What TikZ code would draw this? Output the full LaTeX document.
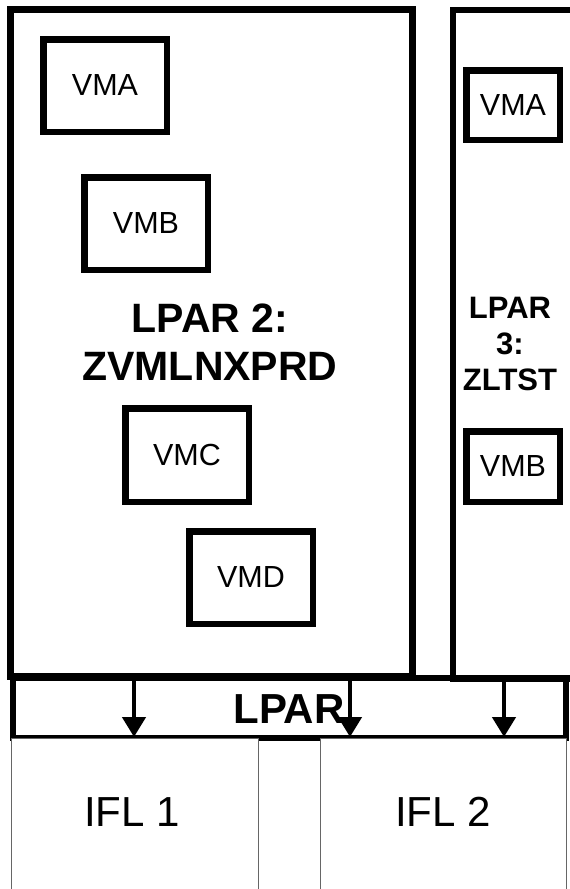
\documentclass[tikz,border=0pt]{standalone}
\usepackage{fontspec}
\setmainfont{Liberation Sans}
\usetikzlibrary{arrows.meta}
\begin{document}
\begin{tikzpicture}[x=1pt,y=-1pt,
  lparbox/.style={draw, line width=6.5pt, inner sep=0pt},
  vmbox/.style={draw, line width=6.5pt, inner sep=0pt, fill=white,
    minimum width=123.5pt, minimum height=92.5pt,
    font=\fontsize{30.5}{36}\selectfont},
  vmsmall/.style={vmbox, minimum width=93.5pt, minimum height=70pt},
  iflbox/.style={draw=black!60, line width=1pt, fill=white, inner sep=0pt,
    font=\fontsize{42}{50}\selectfont},
  conn/.style={line width=4.5pt, -{Triangle[width=23pt,length=20pt]}}
]
\useasboundingbox (0,0) rectangle (570,889);
\fill[white] (0,0) rectangle (570,889);
\clip (0,0) rectangle (570,889);

% LPAR containers
\node[lparbox, minimum width=402pt, minimum height=667pt] (lpar2) at (211.5,343) {};
\node[lparbox, minimum width=167pt, minimum height=668.5pt] (lpar3) at (536.5,344.25) {};

% LPAR bar
\node[draw, line width=6pt, inner sep=0pt, minimum width=553pt, minimum height=60pt] (bar) at (289.5,707.5) {};
\node[inner sep=0pt, font=\fontsize{42}{48}\selectfont\bfseries] (bartext) at (289,709) {LPAR};

% VMs in LPAR 2
\node[vmbox] (vma2) at (105,85.5) {VMA};
\node[vmbox] (vmb2) at (146,223.5) {VMB};
\node[vmbox, minimum height=93.5pt] (vmc2) at (187,455) {VMC};
\node[vmbox, minimum height=92.5pt] (vmd2) at (251,577.5) {VMD};
\node[inner sep=0pt, align=center, font=\fontsize{41}{48.5}\selectfont\bfseries]
  (t2) at (210,342) {LPAR 2:\\ZVMLNXPRD};

% VMs in LPAR 3
\node[vmsmall, minimum height=69.5pt] (vma3) at (513,105) {VMA};
\node[vmsmall, minimum height=70.5pt] (vmb3) at (513,466.5) {VMB};
\node[inner sep=0pt, align=center, font=\fontsize{31}{36}\selectfont\bfseries]
  (t3) at (510,343.5) {LPAR\\3:\\ZLTST};

% IFL boxes
\node[iflbox, minimum width=247pt, minimum height=170pt, anchor=north west] (ifl1) at (11,738) {};
\node[iflbox, minimum width=246pt, minimum height=170pt, anchor=north west] (ifl2) at (320,738) {};
\node[inner sep=0pt, font=\fontsize{42}{50}\selectfont] (ifl1t) at (132,812) {IFL 1};
\node[inner sep=0pt, font=\fontsize{42}{50}\selectfont] (ifl2t) at (443,812) {IFL 2};

% arrows
\coordinate (s1) at (134,676);
\coordinate (e1) at (134,737);
\coordinate (s2) at (350,676);
\coordinate (e2) at (350,737);
\coordinate (s3) at (504,677);
\coordinate (e3) at (504,737);
\draw[conn] (s1) -- (e1);
\draw[conn] (s2) -- (e2);
\draw[conn] (s3) -- (e3);
\end{tikzpicture}
\end{document}
